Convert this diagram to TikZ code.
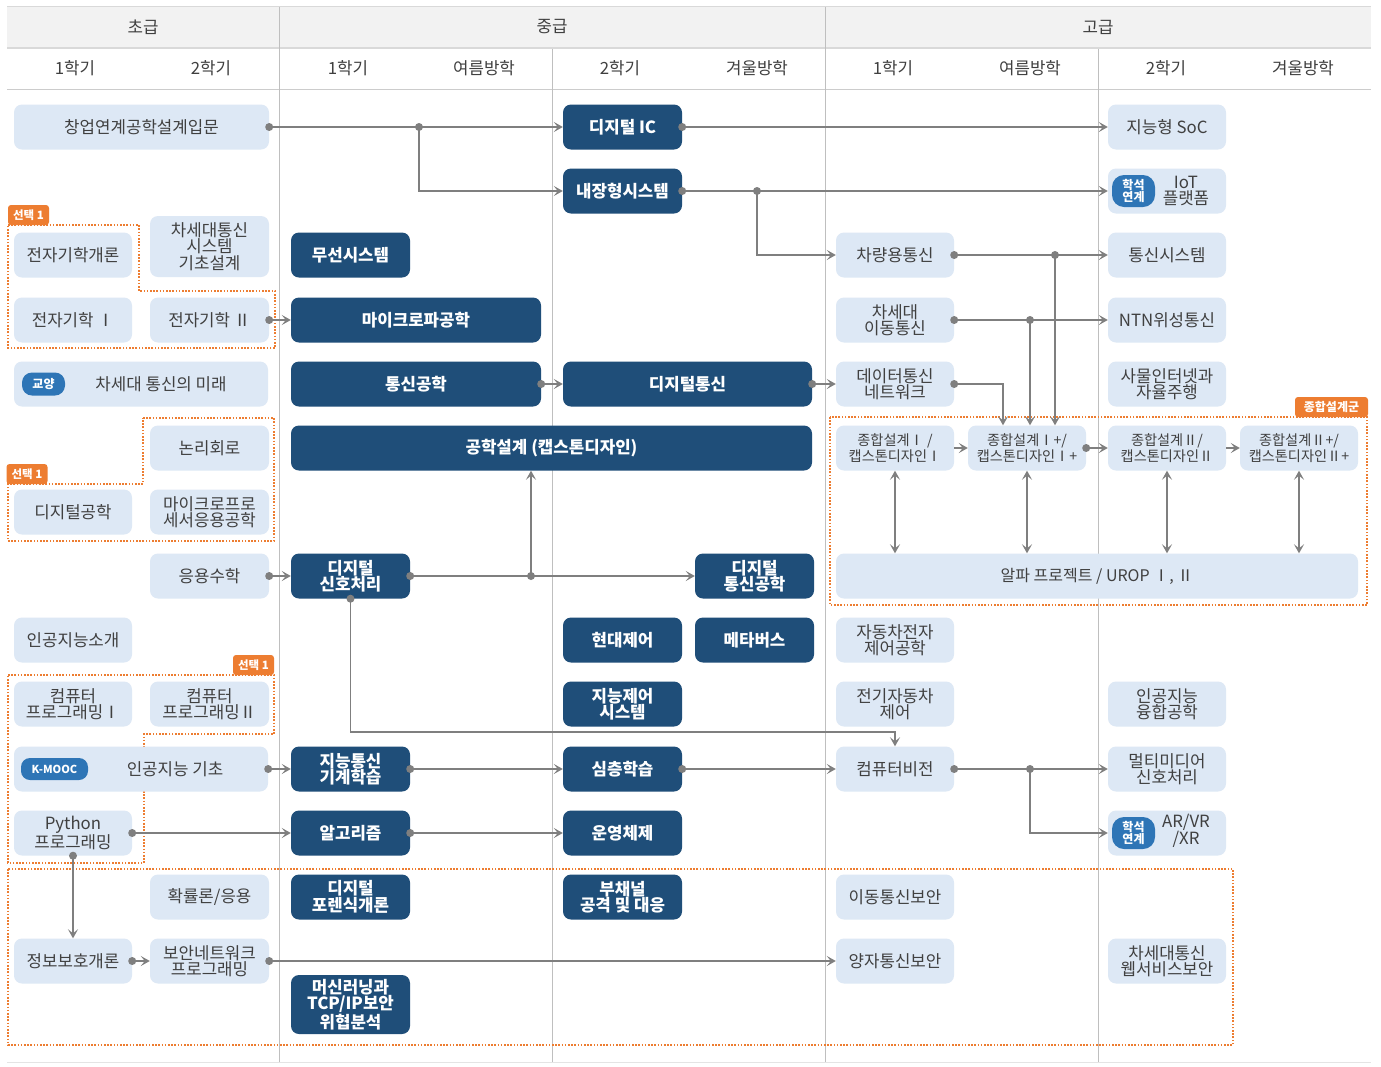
\documentclass[tikz,border=0pt]{standalone}
\usepackage{fontspec}
\setmainfont{Noto Sans CJK KR}
\usetikzlibrary{arrows.meta}
\definecolor{lbfill}{HTML}{DDE8F5}
\definecolor{dbfill}{HTML}{1F4E79}
\definecolor{badgeblue}{HTML}{2E75B6}
\definecolor{orng}{HTML}{ED7D31}
\definecolor{lgray}{HTML}{7F7F7F}
\definecolor{txt}{HTML}{404040}
\definecolor{hdrbg}{HTML}{F2F2F2}
\definecolor{sepline}{HTML}{BFBFBF}
\definecolor{hline}{HTML}{D9D9D9}
\newcommand\dotp[1]{\fill[lgray] (#1) circle (4pt);}
\begin{document}
\begin{tikzpicture}[x=1pt,y=-1pt,
  lbox/.style={rectangle, rounded corners=8pt, fill=lbfill, text=txt, align=center, inner sep=0pt, minimum height=45pt, minimum width=118pt, font=\fontsize{16.8}{16.5}\selectfont},
  dbox/.style={lbox, fill=dbfill, text=white, minimum width=119pt, font=\fontsize{16.8}{16.5}\selectfont\bfseries},
  nbox/.style={lbox, font=\fontsize{14.2}{16}\selectfont},
  plain/.style={text=txt, align=center, inner sep=0pt, font=\fontsize{16.8}{16.5}\selectfont},
  hdr/.style={text=txt, inner sep=0pt, font=\fontsize{16.8}{17}\selectfont},
  badge/.style={fill=badgeblue, text=white, align=center, inner sep=0pt, font=\fontsize{12}{12.5}\selectfont\bfseries},
  tagbox/.style={fill=orng, text=white, inner sep=0pt, rounded corners=3pt, minimum height=20pt, minimum width=41pt, font=\fontsize{11.5}{12}\selectfont\bfseries},
  grp/.style={draw=orng, line width=1.6pt, dash pattern=on 1.6pt off 1.6pt},
  conn/.style={draw=lgray, line width=1.8pt, -{Stealth[length=9pt,width=10pt,inset=4pt]}},
  dconn/.style={draw=lgray, line width=1.8pt, {Stealth[length=9pt,width=10pt,inset=4pt]}-{Stealth[length=9pt,width=10pt,inset=4pt]}},
  sep/.style={draw=sepline, line width=1pt}
]
\useasboundingbox (0,0) rectangle (1381,1066);
\fill[white] (0,0) rectangle (1381,1066);
% header
\fill[hdrbg] (7,7) rectangle (1371,47);
\draw[hline, line width=1pt] (7,6.5) -- (1371,6.5);
\draw[hline, line width=2.5pt] (7,48) -- (1371,48);
\draw[sepline!80, line width=1pt] (7,89) -- (1371,89);
\draw[hline!70, line width=1pt] (7,1062) -- (1371,1062);
\draw[sep] (279,7) -- (279,1062);
\draw[sep] (825,7) -- (825,1062);
\draw[sep] (552,49) -- (552,1062);
\draw[sep] (1098,49) -- (1098,1062);
\node[hdr] (h1) at (143,27) {초급};
\node[hdr] (h2) at (552,27) {중급};
\node[hdr] (h3) at (1098,27) {고급};
\node[hdr] (s1) at (75,68) {1학기};
\node[hdr] (s2) at (211,68) {2학기};
\node[hdr] (s3) at (348,68) {1학기};
\node[hdr] (s4) at (484,68) {여름방학};
\node[hdr] (s5) at (620,68) {2학기};
\node[hdr] (s6) at (757,68) {겨울방학};
\node[hdr] (s7) at (893,68) {1학기};
\node[hdr] (s8) at (1030,68) {여름방학};
\node[hdr] (s9) at (1166,68) {2학기};
\node[hdr] (s10) at (1303,68) {겨울방학};
% groups
\draw[grp] (8,225) -- (139,225) -- (139,291) -- (275,291) -- (275,348) -- (8,348) -- cycle;
\draw[grp] (143,418) -- (274,418) -- (274,541) -- (8,541) -- (8,484) -- (143,484) -- cycle;
\draw[grp] (8,675) -- (274,675) -- (274,734) -- (144,734) -- (144,863) -- (8,863) -- cycle;
\draw[grp] (8,869) rectangle (1233,1045);
\draw[grp] (830,417) rectangle (1367,605);
% row 127
\node[lbox, minimum width=255pt] (chang) at (141.5,127) {창업연계공학설계입문};
\node[dbox] (dic) at (622.5,127) {디지털 IC};
\node[lbox] (soc) at (1167,127) {지능형 SoC};
% row 191
\node[dbox] (nae) at (622.5,191) {내장형시스템};
\node[lbox] (iot) at (1167,191) {};
\node[badge, minimum width=43pt, minimum height=32pt, rounded corners=12pt] (iotb) at (1133.5,191) {학석\\연계};
\node[plain] (iott) at (1186,191) {IoT\\플랫폼};
% row 255
\node[lbox] (jeon0) at (73,255) {전자기학개론};
\node[lbox, minimum width=119pt, minimum height=61pt] (nextsys) at (209.5,246.5) {차세대통신\\시스템\\기초설계};
\node[dbox] (wless) at (350.5,255) {무선시스템};
\node[lbox] (car) at (895,255) {차량용통신};
\node[lbox] (comsys) at (1167,255) {통신시스템};
% row 320
\node[lbox] (jeon1) at (73,320) {전자기학 Ⅰ};
\node[lbox, minimum width=119pt] (jeon2) at (209.5,320) {전자기학 Ⅱ};
\node[dbox, minimum width=250pt] (micro) at (416,320) {마이크로파공학};
\node[lbox] (mobile) at (895,320) {차세대\\이동통신};
\node[lbox] (ntn) at (1167,320) {NTN위성통신};
% row 384
\node[lbox, minimum width=254pt] (gyo) at (141,384) {};
\node[badge, minimum width=43pt, minimum height=23pt, rounded corners=10pt] (gyob) at (43.5,384) {교양};
\node[plain] (gyot) at (161,384) {차세대 통신의 미래};
\node[dbox, minimum width=250pt] (comm) at (416,384) {통신공학};
\node[dbox, minimum width=249pt] (dcomm) at (687.5,384) {디지털통신};
\node[lbox] (datanet) at (895,384) {데이터통신\\네트워크};
\node[lbox] (iotcar) at (1167,384) {사물인터넷과\\자율주행};
% row 448
\node[lbox, minimum width=119pt] (logic) at (209.5,448) {논리회로};
\node[dbox, minimum width=521pt] (cap) at (551.5,448) {공학설계 (캡스톤디자인)};
\node[nbox] (jong1) at (895,448) {종합설계Ⅰ /\\캡스톤디자인Ⅰ};
\node[nbox] (jong1p) at (1027,448) {종합설계Ⅰ+/\\캡스톤디자인Ⅰ+};
\node[nbox] (jong2) at (1167,448) {종합설계Ⅱ/\\캡스톤디자인Ⅱ};
\node[nbox] (jong2p) at (1299,448) {종합설계Ⅱ+/\\캡스톤디자인Ⅱ+};
% row 512
\node[lbox] (digeng) at (73,512) {디지털공학};
\node[lbox, minimum width=119pt] (mproc) at (209.5,512) {마이크로프로\\세서응용공학};
% row 576
\node[lbox, minimum width=119pt] (math) at (209.5,576) {응용수학};
\node[dbox] (dsp) at (350.5,576) {디지털\\신호처리};
\node[dbox] (dcomeng) at (754.5,576) {디지털\\통신공학};
\node[lbox, minimum width=522pt, font=\fontsize{16}{16.5}\selectfont] (alpha) at (1097,576) {알파 프로젝트 / UROP Ⅰ, Ⅱ};
% row 640
\node[lbox] (aiintro) at (73,640) {인공지능소개};
\node[dbox] (modern) at (622.5,640) {현대제어};
\node[dbox] (meta) at (754.5,640) {메타버스};
\node[lbox] (autoel) at (895,640) {자동차전자\\제어공학};
% row 704
\node[lbox] (cp1) at (73,704) {컴퓨터\\프로그래밍Ⅰ};
\node[lbox, minimum width=119pt] (cp2) at (209.5,704) {컴퓨터\\프로그래밍Ⅱ};
\node[dbox] (ictrl) at (622.5,704) {지능제어\\시스템};
\node[lbox] (ev) at (895,704) {전기자동차\\제어};
\node[lbox] (aifuse) at (1167,704) {인공지능\\융합공학};
% row 769
\node[lbox, minimum width=254pt] (kmooc) at (141,769) {};
\node[badge, minimum width=67pt, minimum height=22pt, rounded corners=9pt, font=\fontsize{11}{12}\selectfont\bfseries] (kmb) at (54.5,769) {K-MOOC};
\node[plain] (kmt) at (175,769) {인공지능 기초};
\node[dbox] (iml) at (350.5,769) {지능통신\\기계학습};
\node[dbox] (deep) at (622.5,769) {심층학습};
\node[lbox] (cv) at (895,769) {컴퓨터비전};
\node[lbox] (mm) at (1167,769) {멀티미디어\\신호처리};
% row 833
\node[lbox] (py) at (73,833) {Python\\프로그래밍};
\node[dbox] (algo) at (350.5,833) {알고리즘};
\node[dbox] (os) at (622.5,833) {운영체제};
\node[lbox] (arvr) at (1167,833) {};
\node[badge, minimum width=43pt, minimum height=32pt, rounded corners=12pt] (arb) at (1133.5,833) {학석\\연계};
\node[plain] (art) at (1186,831) {AR/VR\\/XR};
% row 897
\node[lbox, minimum width=119pt] (prob) at (209.5,897) {확률론/응용};
\node[dbox] (foren) at (350.5,897) {디지털\\포렌식개론};
\node[dbox] (side) at (622.5,897) {부채널\\공격 및 대응};
\node[lbox] (mobsec) at (895,897) {이동통신보안};
% row 961
\node[lbox] (infosec) at (73,961) {정보보호개론};
\node[lbox, minimum width=119pt] (secnet) at (209.5,961) {보안네트워크\\프로그래밍};
\node[lbox] (qsec) at (895,961) {양자통신보안};
\node[lbox] (websec) at (1167,961) {차세대통신\\웹서비스보안};
\node[dbox, minimum height=59pt] (ml) at (350.5,1004.5) {머신러닝과\\TCP/IP보안\\위협분석};
% tags
\node[tagbox] (t1) at (28.5,215) {선택 1};
\node[tagbox] (t2) at (27,474) {선택 1};
\node[tagbox] (t3) at (253.5,665) {선택 1};
\node[tagbox, minimum width=73pt, font=\fontsize{12}{12}\selectfont\bfseries] (t4) at (1331.5,407) {종합설계군};
% junctions
\coordinate (j1) at (419,127);
\coordinate (j2) at (757,191);
\coordinate (j3) at (1055,255);
\coordinate (j4) at (1030,320);
\coordinate (j5) at (531,576);
\coordinate (j6) at (1030,769);
\coordinate (q1) at (895,732);
% connectors
\draw[conn] (chang.east) -- (dic.west);
\draw[conn] (j1) |- (nae.west);
\draw[conn] (dic.east) -- (soc.west);
\draw[conn] (nae.east) -- (iot.west);
\draw[conn] (j2) |- (car.west);
\draw[conn] (car.east) -- (comsys.west);
\draw[conn] (j3) -- (j3 |- jong1p.north);
\draw[conn] (mobile.east) -- (ntn.west);
\draw[conn] (j4) -- (j4 |- jong1p.north);
\draw[conn] (datanet.east) -| ([xshift=-24pt]jong1p.north);
\draw[conn] (jeon2.east) -- (micro.west);
\draw[conn] (comm.east) -- (dcomm.west);
\draw[conn] (dcomm.east) -- (datanet.west);
\draw[conn] (jong1.east) -- (jong1p.west);
\draw[conn] (jong1p.east) -- (jong2.west);
\draw[conn] (jong2.east) -- (jong2p.west);
\draw[dconn] (jong1.south) -- (jong1.south |- alpha.north);
\draw[dconn] (jong1p.south) -- (jong1p.south |- alpha.north);
\draw[dconn] (jong2.south) -- (jong2.south |- alpha.north);
\draw[dconn] (jong2p.south) -- (jong2p.south |- alpha.north);
\draw[conn] (math.east) -- (dsp.west);
\draw[conn] (dsp.east) -- (dcomeng.west);
\draw[conn] (j5) -- (j5 |- cap.south);
\draw[conn] (dsp.south) |- (q1) -- (cv.north);
\draw[conn] (kmooc.east) -- (iml.west);
\draw[conn] (iml.east) -- (deep.west);
\draw[conn] (deep.east) -- (cv.west);
\draw[conn] (cv.east) -- (mm.west);
\draw[conn] (j6) |- (arvr.west);
\draw[conn] (py.east) -- (algo.west);
\draw[conn] (algo.east) -- (os.west);
\draw[conn] (py.south) -- (infosec.north);
\draw[conn] (infosec.east) -- (secnet.west);
\draw[conn] (secnet.east) -- (qsec.west);
% dots
\dotp{chang.east}\dotp{j1}\dotp{dic.east}\dotp{nae.east}\dotp{j2}
\dotp{car.east}\dotp{j3}\dotp{mobile.east}\dotp{j4}\dotp{datanet.east}
\dotp{jeon2.east}\dotp{comm.east}\dotp{dcomm.east}\dotp{jong1p.east}
\dotp{math.east}\dotp{dsp.east}\dotp{j5}\dotp{dsp.south}
\dotp{kmooc.east}\dotp{iml.east}\dotp{deep.east}\dotp{cv.east}\dotp{j6}
\dotp{py.east}\dotp{algo.east}\dotp{py.south}\dotp{infosec.east}\dotp{secnet.east}
\end{tikzpicture}
\end{document}
